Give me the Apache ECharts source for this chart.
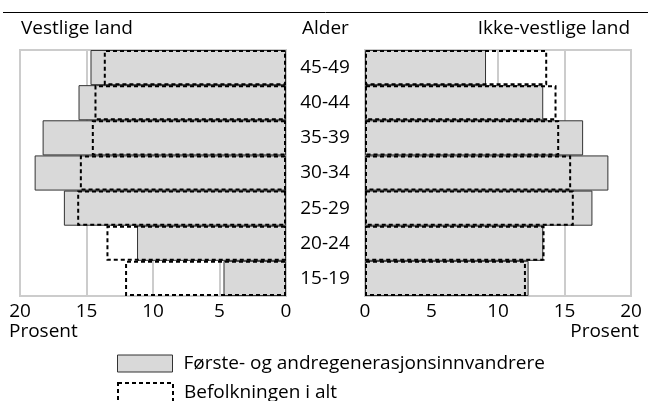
<!DOCTYPE html>
<html>
<head>
<meta charset="utf-8">
<script src="https://cdn.jsdelivr.net/npm/echarts@6/dist/echarts.min.js"></script>
<style>
  html, body { margin: 0; padding: 0; background: #fff; }
  #chart { width: 648px; height: 401px; }
</style>
</head>
<body>
<div id="chart"></div>
<script>
var ages = ['45-49', '40-44', '35-39', '30-34', '25-29', '20-24', '15-19'];
var vestlige = [14.7, 15.6, 18.3, 18.9, 16.7, 11.2, 4.7];
var ikkeVestlige = [9.1, 13.4, 16.4, 18.3, 17.1, 13.4, 12.3];
var befolkning = [13.7, 14.4, 14.6, 15.5, 15.7, 13.5, 12.1];
var ticks = [0, 5, 10, 15, 20];

var font = 'Open Sans';
var fs = 19;
var immName = 'Første- og andregenerasjonsinnvandrere';
var totName = 'Befolkningen i alt';

var immStyle = { color: '#d9d9d9', borderColor: '#333', borderWidth: 1 };
var totStyle = { color: 'rgba(0,0,0,0)', borderColor: '#000', borderWidth: 2, borderType: [4, 3] };
var txt = { fontFamily: font, fontSize: fs, fontWeight: 'normal', color: '#000' };

var chart = echarts.init(document.getElementById('chart'), null, { renderer: 'canvas' });

function xAxis(idx, inverse) {
    return {
        gridIndex: idx, type: 'value', min: 0, max: 20, interval: 5, inverse: inverse,
        axisLine: { show: false }, axisTick: { show: false },
        axisLabel: { color: '#000', fontFamily: font, fontSize: fs, margin: 6,
            formatter: function (v) { return ticks.indexOf(v) >= 0 ? String(v) : ''; } },
        splitLine: { lineStyle: { color: '#ccc', width: 2 } }
    };
}

function legend(name, style, top, h) {
    return {
        orient: 'vertical', left: 117, top: top, itemWidth: 55, itemHeight: h,
        icon: 'rect', selectedMode: false, padding: 0,
        textStyle: { fontFamily: font, fontSize: fs, color: '#000', padding: [0, 0, 0, 6] },
        data: [{ name: name, itemStyle: style }]
    };
}

var option = {
    animation: false,
    textStyle: { fontFamily: font },
    title: [
        { text: 'Vestlige land', left: 21, top: 19, padding: 0, textStyle: txt },
        { text: 'Alder', left: 302, top: 19, padding: 0, textStyle: txt },
        { text: 'Ikke-vestlige land', right: 18, top: 19, padding: 0, textStyle: txt },
        { text: 'Prosent', left: 9, top: 322, padding: 0, textStyle: txt },
        { text: 'Prosent', right: 9, top: 322, padding: 0, textStyle: txt }
    ],
    graphic: [
        { type: 'line', shape: { x1: 3, y1: 12.5, x2: 648, y2: 12.5 }, style: { stroke: '#000', lineWidth: 1 } }
    ],
    legend: [
        legend(immName, immStyle, 354, 17),
        legend(totName, totStyle, 382, 20)
    ],
    grid: [
        { left: 20, right: 362, top: 50, bottom: 105, show: true, borderColor: '#ccc', borderWidth: 2 },
        { left: 365, right: 17, top: 50, bottom: 105, show: true, borderColor: '#ccc', borderWidth: 2 }
    ],
    xAxis: [xAxis(0, true), xAxis(1, false)],
    yAxis: [
        { gridIndex: 0, type: 'category', data: ages, inverse: true, position: 'right',
          axisLine: { show: false }, axisTick: { show: false },
          axisLabel: { color: '#000', fontFamily: font, fontSize: fs, align: 'center', margin: 39 } },
        { gridIndex: 1, type: 'category', data: ages, inverse: true,
          axisLine: { show: false }, axisTick: { show: false }, axisLabel: { show: false } }
    ],
    series: [
        { name: immName, type: 'bar', xAxisIndex: 0, yAxisIndex: 0, data: vestlige,
          barCategoryGap: 0, barGap: '-100%', itemStyle: immStyle },
        { name: totName, type: 'bar', xAxisIndex: 0, yAxisIndex: 0, data: befolkning,
          barCategoryGap: 0, barGap: '-100%', itemStyle: totStyle, z: 3 },
        { name: immName, type: 'bar', xAxisIndex: 1, yAxisIndex: 1, data: ikkeVestlige,
          barCategoryGap: 0, barGap: '-100%', itemStyle: immStyle },
        { name: totName, type: 'bar', xAxisIndex: 1, yAxisIndex: 1, data: befolkning,
          barCategoryGap: 0, barGap: '-100%', itemStyle: totStyle, z: 3 }
    ]
};

chart.setOption(option);
window.addEventListener('resize', function () { chart.resize(); });
</script>
</body>
</html>
